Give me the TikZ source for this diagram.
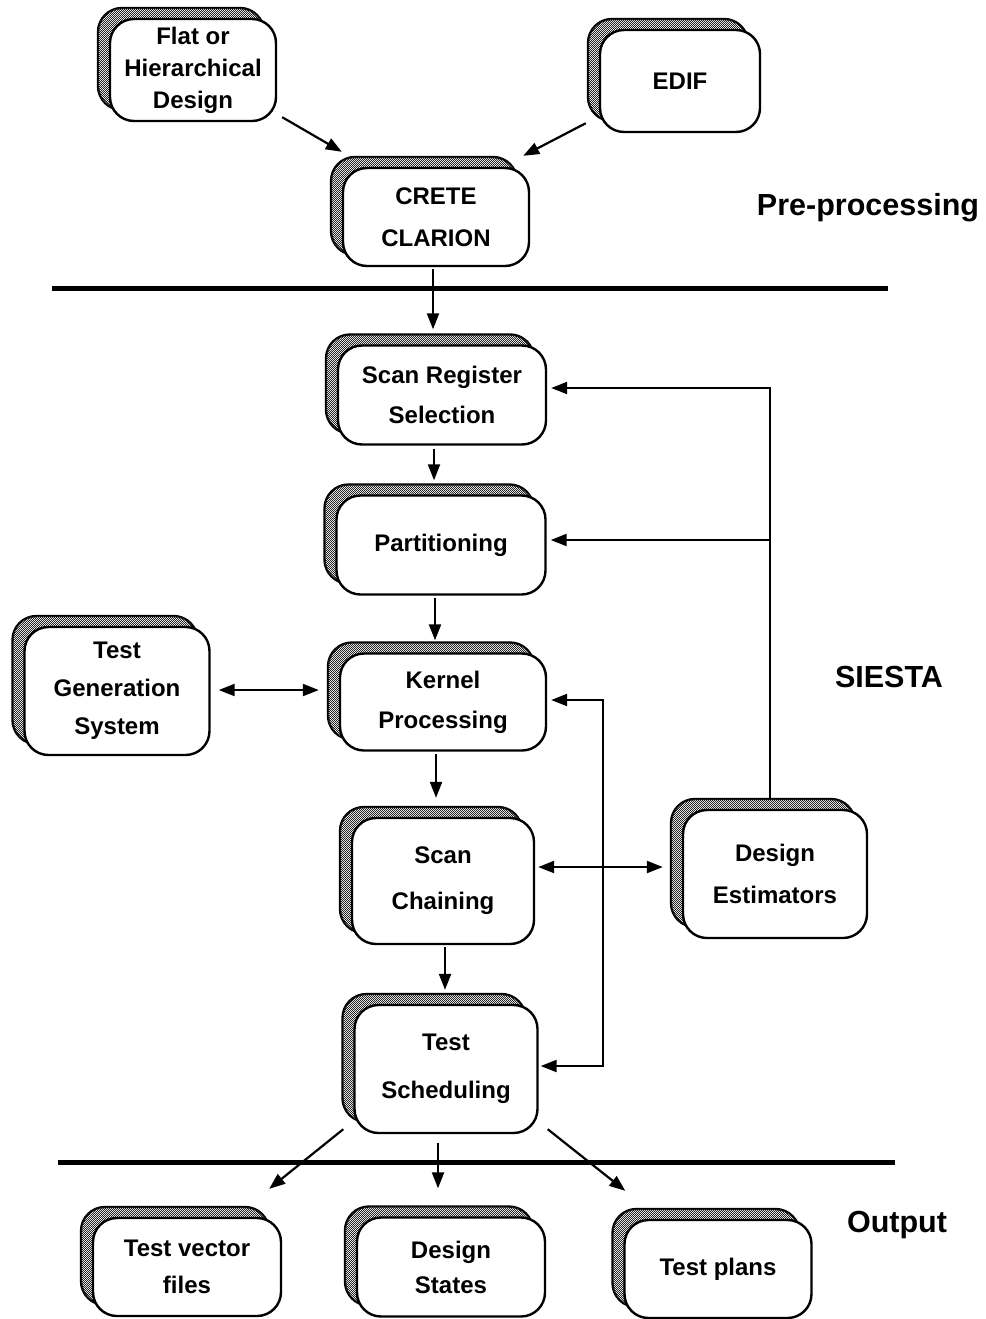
\documentclass[tikz,border=0pt]{standalone}
\usepackage{fontspec}
\setmainfont{Liberation Sans}
\usetikzlibrary{arrows.meta,shadows,patterns,calc}

% fine checkerboard used for the offset shadow boxes
\pgfdeclarepatternformonly{checker}{\pgfqpoint{0pt}{0pt}}{\pgfqpoint{2.4pt}{2.4pt}}{\pgfqpoint{2.4pt}{2.4pt}}{%
  \pgfpathrectangle{\pgfqpoint{0pt}{0pt}}{\pgfqpoint{1.2pt}{1.2pt}}%
  \pgfpathrectangle{\pgfqpoint{1.2pt}{1.2pt}}{\pgfqpoint{1.2pt}{1.2pt}}%
  \pgfusepath{fill}}

\begin{document}
\begin{tikzpicture}[x=1pt,y=-1pt,
  box/.style={draw, line width=2.4pt, rounded corners=24pt, fill=white,
    align=center, inner sep=0pt,
    general shadow={shadow xshift=-12pt, shadow yshift=11pt, draw=black,
      line width=2.4pt, fill=white, postaction={pattern=checker, pattern color=black!85}}},
  lsk/.style={font=\fontsize{24}{#1}\selectfont\bfseries},
  stage/.style={font=\fontsize{30.5}{36}\selectfont\bfseries},
  arr/.style={line width=2.2pt, -{Triangle[length=16pt,width=12pt]}},
  dblarr/.style={line width=2.2pt, {Triangle[length=16pt,width=12pt]}-{Triangle[length=16pt,width=12pt]}},
  rule/.style={line width=5pt}]

\useasboundingbox (0,0) rectangle (985,1319);

% ---- pre-processing ----
\node[box, lsk=32, minimum width=166pt, minimum height=102pt] (flat) at (193,70) {Flat or\\Hierarchical\\Design};
\node[box, lsk=36, minimum width=160pt, minimum height=102pt] (edif) at (680,81) {EDIF};
\node[box, lsk=42, minimum width=186pt, minimum height=98pt] (crete) at (436,217) {CRETE\\CLARION};

% ---- SIESTA ----
\node[box, lsk=40, minimum width=208pt, minimum height=99pt] (scanreg) at (442,395) {Scan Register\\Selection};
\node[box, lsk=36, minimum width=209pt, minimum height=99pt] (part) at (441,545) {Partitioning};
\node[box, lsk=40, minimum width=206pt, minimum height=97pt] (kernel) at (443,702) {Kernel\\Processing};
\node[box, lsk=46, minimum width=182pt, minimum height=126pt] (scanchain) at (443,881) {Scan\\Chaining};
\node[box, lsk=48, minimum width=183pt, minimum height=128pt] (testsched) at (446,1069) {Test\\Scheduling};
\node[box, lsk=38, minimum width=185pt, minimum height=128pt] (tgs) at (117,691) {Test\\Generation\\System};
\node[box, lsk=42, minimum width=184pt, minimum height=128pt] (desest) at (775,874) {Design\\Estimators};

% ---- output ----
\node[box, lsk=37, minimum width=188pt, minimum height=98pt] (tvf) at (187,1267) {Test vector\\files};
\node[box, lsk=35, minimum width=188pt, minimum height=99pt] (dstates) at (451,1267) {Design\\States};
\node[box, lsk=36, minimum width=187pt, minimum height=98pt] (tplans) at (718,1269) {Test plans};

% ---- stage labels and separators ----
\node[stage] (pre) at (868,208) {Pre-processing};
\node[stage] (siesta) at (889,677) {SIESTA};
\node[stage] (out) at (897,1225) {Output};
\draw[rule] (52,288) -- (888,288);
\draw[rule] (58,1162) -- (895,1162);

% ---- connectors ----
\draw[arr] ($(flat.south east)+(5,-5)$) -- ($(crete.north west)+(0,-15)$);
\draw[arr] ($(edif.south west)+(-13,-10)$) -- ($(crete.north east)+(-7,-11)$);
\draw[arr] ($(crete.south)+(-3,2)$) -- ($(crete.south |- scanreg.north)+(-3,-15)$);
\draw[arr] ($(scanreg.south)+(-8,3)$) -- ($(scanreg.south |- part.north)+(-8,-14)$);
\draw[arr] ($(part.south)+(-6,2)$) -- ($(part.south |- kernel.north)+(-6,-12)$);
\draw[arr] ($(kernel.south)+(-7,2)$) -- ($(kernel.south |- scanchain.north)+(-7,-19)$);
\draw[arr] ($(scanchain.south)+(2,2)$) -- ($(scanchain.south |- testsched.north)+(2,-14)$);
\draw[dblarr] ($(tgs.east)+(8,-1)$) -- ($(tgs.east -| kernel.west)+(-20,-1)$);
\draw[dblarr] ($(scanchain.east)+(3,-14)$) -- ($(scanchain.east -| desest.west)+(-19,-14)$);

% feedback from the design estimators
\coordinate (fb) at ($(desest.north)+(-5,-10)$);
\draw[arr] (fb) |- ($(scanreg.east)+(4,-7)$);
\draw[arr] (fb |- part.east) ++(0,-5) -- ($(part.east)+(4,-5)$);

% loop between kernel processing and test scheduling
\draw[dblarr] ($(kernel.east)+(4,-2)$) -- ++(52,0) |- ($(testsched.east)+(2,-3)$);

% results
\draw[arr] ($(testsched.south west)+(-10,-5)$) -- ($(tvf.north east)+(-13,-28)$);
\draw[arr] ($(testsched.south)+(-8,9)$) -- ($(testsched.south |- dstates.north)+(-8,-28)$);
\draw[arr] ($(testsched.south east)+(9,-5)$) -- ($(tplans.north west)+(2,-28)$);

\end{tikzpicture}
\end{document}
